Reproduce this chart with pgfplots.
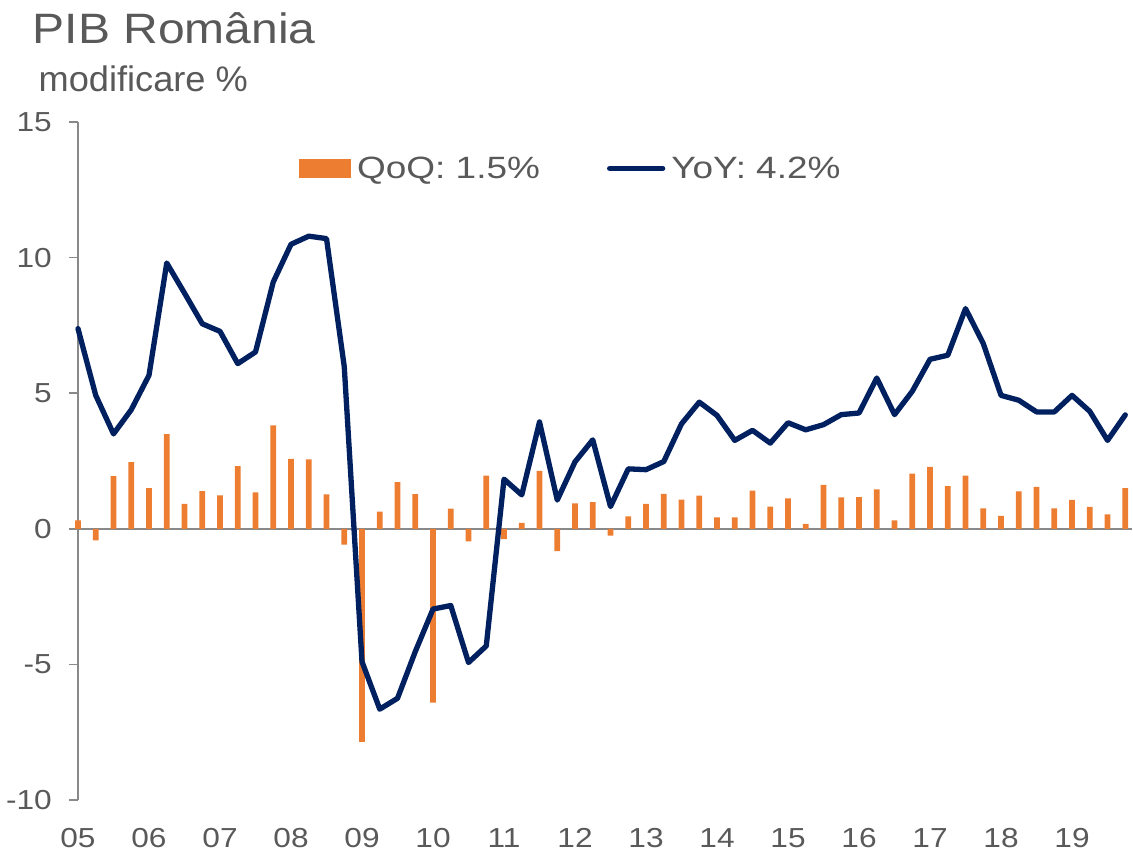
\documentclass[border=0pt]{standalone}
\usepackage{fontspec}
\setmainfont{Liberation Sans}
\newfontfamily\wfont{Liberation Sans}[FakeStretch=1.2]
\newfontfamily\ttfont{Liberation Sans}[FakeStretch=1.13]
\newfontfamily\sfont{Liberation Sans}[FakeStretch=1.02]
\newfontfamily\tfont{Liberation Sans}[FakeStretch=1.15]
\usepackage{pgfplots}
\usepackage{pgfplotstable}
\pgfplotsset{compat=1.18}
\definecolor{qoq}{HTML}{ED7D31}
\definecolor{yoy}{HTML}{002060}
\definecolor{txt}{HTML}{595959}
\definecolor{ax}{HTML}{898989}

\pgfplotstableread{
q qoq yoy
0 0.31 7.38
1 -0.43 4.92
2 1.94 3.50
3 2.46 4.39
4 1.50 5.66
5 3.49 9.80
6 0.92 8.69
7 1.39 7.56
8 1.23 7.28
9 2.31 6.09
10 1.34 6.52
11 3.81 9.10
12 2.58 10.49
13 2.56 10.79
14 1.27 10.70
15 -0.58 5.98
16 -7.86 -4.90
17 0.63 -6.65
18 1.72 -6.25
19 1.28 -4.53
20 -6.41 -2.96
21 0.74 -2.83
22 -0.46 -4.93
23 1.96 -4.32
24 -0.38 1.83
25 0.22 1.25
26 2.14 3.94
27 -0.82 1.06
28 0.94 2.47
29 0.98 3.28
30 -0.25 0.82
31 0.46 2.21
32 0.92 2.18
33 1.29 2.48
34 1.08 3.87
35 1.22 4.67
36 0.42 4.18
37 0.42 3.26
38 1.41 3.63
39 0.82 3.16
40 1.12 3.91
41 0.18 3.65
42 1.62 3.84
43 1.16 4.21
44 1.17 4.27
45 1.45 5.56
46 0.31 4.21
47 2.03 5.07
48 2.28 6.25
49 1.57 6.40
50 1.96 8.12
51 0.75 6.83
52 0.48 4.92
53 1.38 4.74
54 1.55 4.31
55 0.75 4.31
56 1.07 4.92
57 0.81 4.33
58 0.53 3.26
59 1.50 4.20
}\data

\begin{document}
\begin{tikzpicture}
\useasboundingbox (0pt,0pt) rectangle (1133pt,852pt);
\node[anchor=base west, inner sep=0pt, text=txt, font=\ttfont\fontsize{42.5}{44}\selectfont] at (32.5pt,808pt) {PIB România};
\node[anchor=base west, inner sep=0pt, text=txt, font=\sfont\fontsize{35.5}{37}\selectfont] at (38.4pt,760.3pt) {modificare \%};
\begin{axis}[
  at={(78pt,52pt)}, anchor=south west,
  scale only axis, width=1051.7pt, height=678pt,
  xmin=0, xmax=59.25, ymin=-10, ymax=15,
  axis lines*=left,
  x axis line style={draw=none},
  y axis line style={draw=ax, line width=1.5pt},
  ytick={-10,-5,0,5,10,15},
  yticklabels={-10,-5,0,5,10,15},
  xtick={0,4,...,56},
  xticklabels={05,06,07,08,09,10,11,12,13,14,15,16,17,18,19},
  major tick length=9pt, tick align=outside,
  ytick style={draw=ax, line width=1.5pt},
  xtick style={draw=none},
  xticklabel style={anchor=center, yshift=-29pt, inner sep=0pt, text=txt, font=\tfont\fontsize{27.5}{27.5}\selectfont},
  yticklabel style={anchor=east, inner sep=0pt, xshift=-17pt, text=txt, font=\tfont\fontsize{27.5}{27.5}\selectfont},
  clip=false,
  legend columns=2,
  legend style={draw=none, fill=none, inner sep=0pt, at={(rel axis cs:0.2101,0.9314)}, anchor=west,
    font=\wfont\fontsize{30.8}{32}\selectfont, text=txt,
    nodes={inner sep=2pt},
    /tikz/every odd column/.append style={column sep=4pt},
    /tikz/every even column/.append style={column sep=65pt}},
]
\draw[ax, line width=2pt] (axis cs:0,0) -- (axis cs:59.35,0);
\addplot[ybar, bar width=5.9pt, fill=qoq, draw=none,
  legend image code/.code={\fill[qoq] (0pt,-9.5pt) rectangle (52pt,9.5pt);}]
  table[x=q,y=qoq]{\data};
\addlegendentry{QoQ: 1.5\%}
\addplot[yoy, line width=5.3pt, line join=round, line cap=round, no marks,
  legend image code/.code={\draw[yoy, line width=5.3pt, line cap=round] (0pt,0pt) -- (53pt,0pt);}]
  table[x=q,y=yoy]{\data};
\addlegendentry{YoY: 4.2\%}
\end{axis}
\end{tikzpicture}
\end{document}
